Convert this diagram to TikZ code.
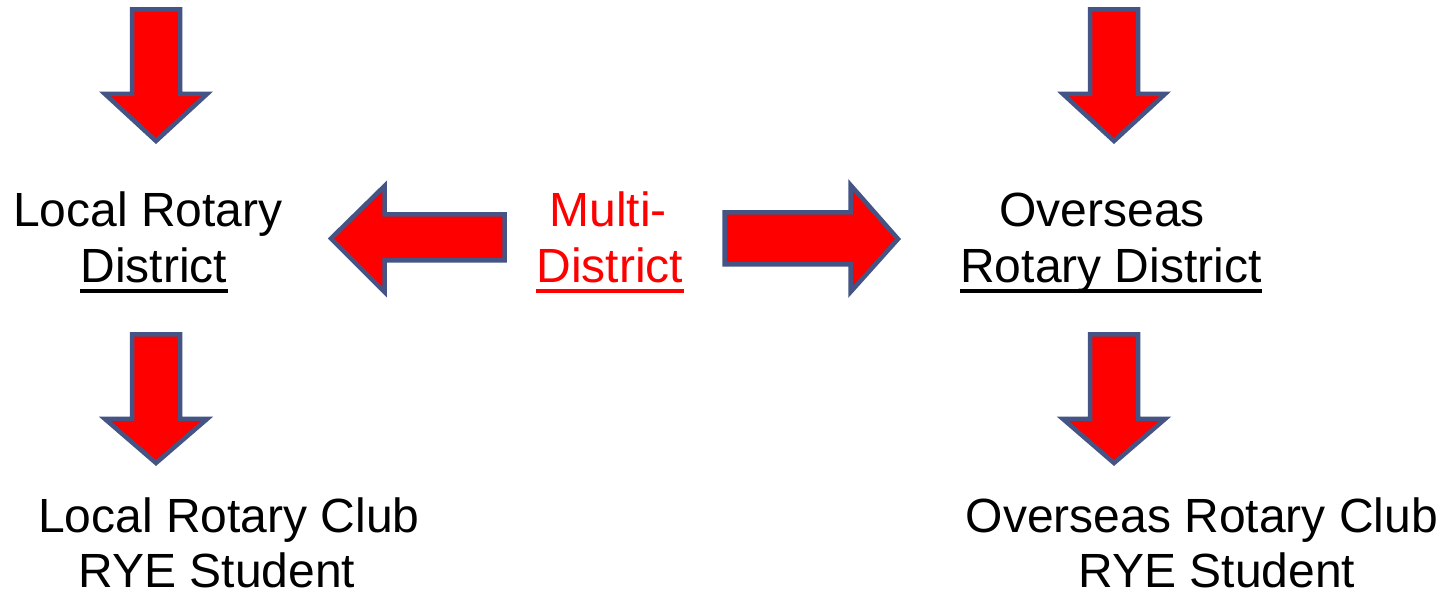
\documentclass[tikz,border=0pt]{standalone}
\usepackage{fontspec}
\setmainfont{Liberation Sans}
\definecolor{arrowline}{RGB}{68,84,132}
\definecolor{mdred}{RGB}{255,0,0}
\newcommand{\blockdown}[4]{%
  \draw[blockarrow] (#1-24,#2) -- (#1+24,#2) -- (#1+24,#3) -- (#1+51,#3) -- (#1,#4) -- (#1-51,#3) -- (#1-24,#3) -- cycle;}
\begin{document}
\begin{tikzpicture}[x=1pt,y=-1pt,
  blockarrow/.style={fill=mdred, draw=arrowline, line width=4.5pt, line join=miter},
  lbl/.style={anchor=base, inner sep=0pt, font=\fontsize{48}{56}\selectfont},
  uline/.style={line width=4pt}]
\useasboundingbox[fill=white] (0,0) rectangle (1446,593);
% down arrows
\blockdown{156}{9.5}{94}{141}
\blockdown{156}{334.5}{419}{463}
\blockdown{1114}{9.5}{94}{141}
\blockdown{1114}{334.5}{419}{463}
% left arrow
\draw[blockarrow] (504.5,214.5) -- (384.5,214.5) -- (384.5,186) -- (331,238.5) -- (384.5,292) -- (384.5,260.5) -- (504.5,260.5) -- cycle;
% right arrow
\draw[blockarrow] (724.5,212.5) -- (850.5,212.5) -- (850.5,185) -- (898,239) -- (850.5,292) -- (850.5,264.5) -- (724.5,264.5) -- cycle;
% texts
\node[lbl] (lrd1) at (148,227) {Local Rotary};
\node[lbl] (lrd2) at (154,283) {District};
\node[lbl, text=mdred] (md1) at (608,227) {Multi-};
\node[lbl, text=mdred] (md2) at (610,283) {District};
\node[lbl] (ord1) at (1102,227) {Overseas};
\node[lbl] (ord2) at (1111,283) {Rotary District};
\node[lbl] (lrc1) at (229,532) {Local Rotary Club};
\node[lbl] (lrc2) at (217,587) {RYE Student};
\node[lbl] (orc1) at (1202,532) {Overseas Rotary Club};
\node[lbl] (orc2) at (1217,587) {RYE Student};
% underlines
\draw[uline] ([yshift=-8pt]lrd2.base west) -- ([yshift=-8pt]lrd2.base east);
\draw[uline, mdred] ([yshift=-8pt]md2.base west) -- ([yshift=-8pt]md2.base east);
\draw[uline] ([yshift=-8pt]ord2.base west) -- ([yshift=-8pt]ord2.base east);
\end{tikzpicture}
\end{document}
